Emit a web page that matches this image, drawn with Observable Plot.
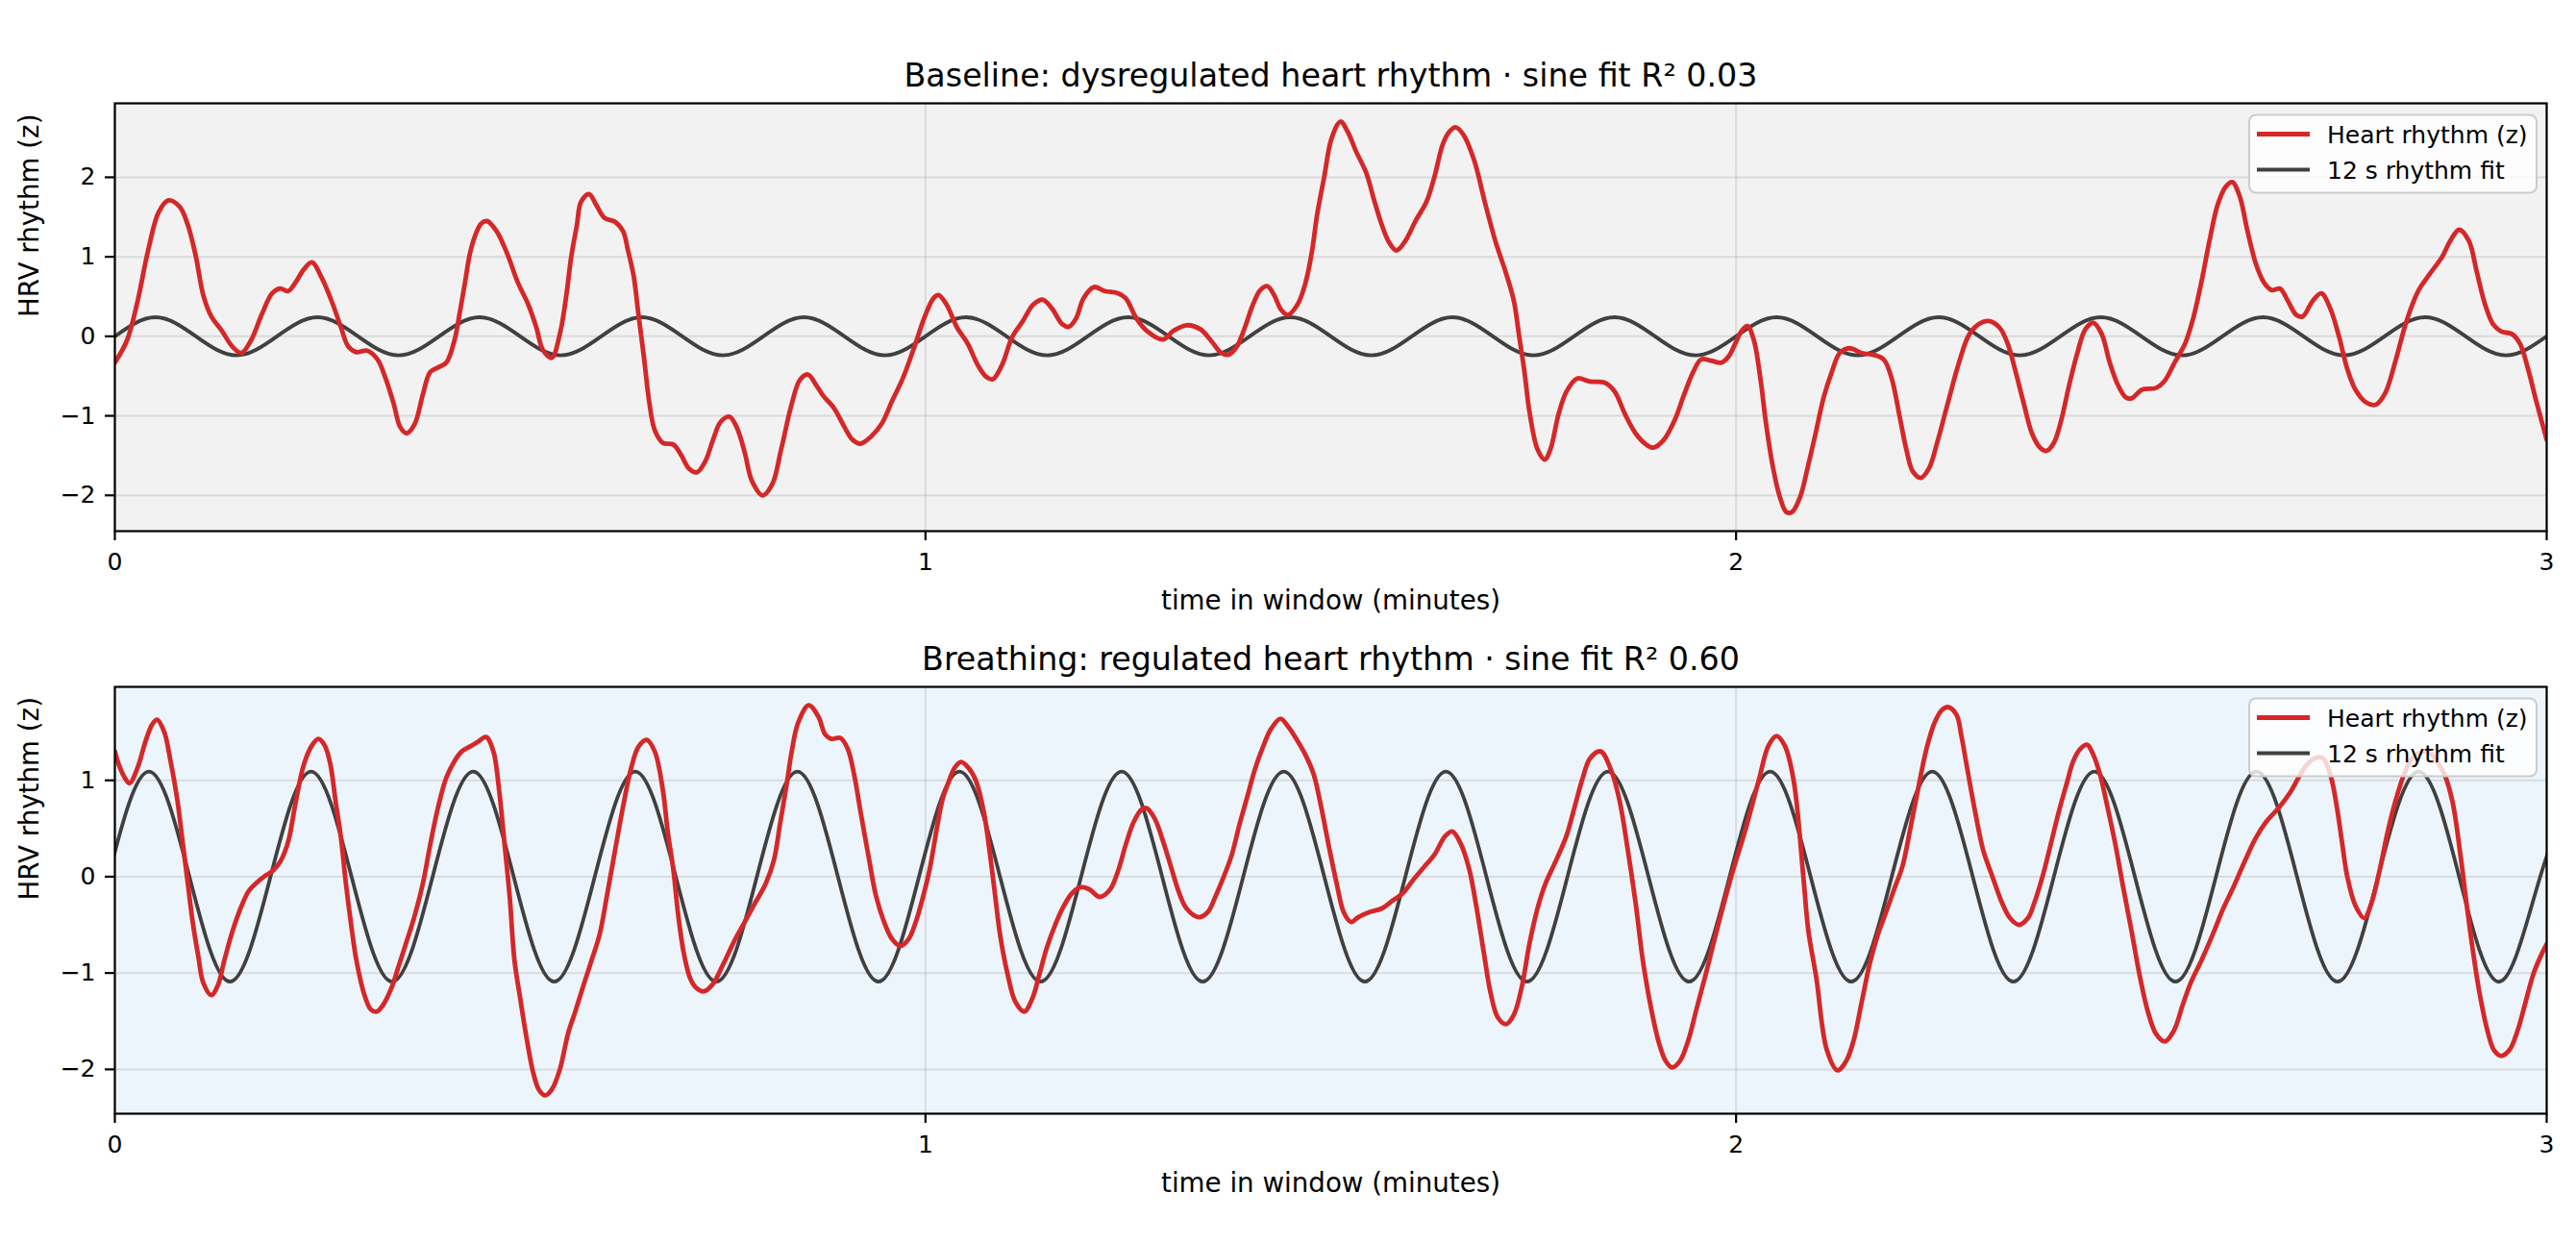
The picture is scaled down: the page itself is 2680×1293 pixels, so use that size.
<!DOCTYPE html>
<html>
<head>
<meta charset="utf-8">
<script src="https://cdn.jsdelivr.net/npm/d3@7"></script>
<script src="https://cdn.jsdelivr.net/npm/@observablehq/plot@0.6"></script>
<style>
  html, body { margin: 0; padding: 0; background: #ffffff; }
  #chart svg { display: block; }
</style>
</head>
<body>
<div id="chart"></div>
<script>
// ---------- DATA ----------
const xTicks = [0, 1, 2, 3];
const baselineYTicks = [-2, -1, 0, 1, 2];
const breathingYTicks = [-2, -1, 0, 1];
const xLabel = "time in window (minutes)";
const yLabel = "HRV rhythm (z)";
const seriesLabels = ["Heart rhythm (z)", "12 s rhythm fit"];
const baselineTitle = "Baseline: dysregulated heart rhythm · sine fit R² 0.03";
const breathingTitle = "Breathing: regulated heart rhythm · sine fit R² 0.60";

// [time (minutes), z value]
const baselineHeart = [
[0.000,-0.33],[0.015,-0.05],[0.028,0.44],[0.041,1.08],[0.054,1.56],[0.066,1.71],[0.080,1.63],[0.090,1.40],[0.100,1.00],[0.109,0.52],
[0.119,0.25],[0.132,0.07],[0.145,-0.13],[0.156,-0.21],[0.168,-0.05],[0.181,0.27],[0.194,0.54],[0.204,0.60],[0.214,0.57],[0.223,0.68],
[0.233,0.84],[0.243,0.93],[0.256,0.72],[0.269,0.40],[0.279,0.11],[0.288,-0.13],[0.298,-0.20],[0.311,-0.18],[0.324,-0.29],[0.334,-0.53],
[0.344,-0.85],[0.352,-1.14],[0.360,-1.22],[0.370,-1.10],[0.380,-0.73],[0.389,-0.45],[0.399,-0.39],[0.409,-0.33],[0.419,-0.05],[0.425,0.27],
[0.432,0.68],[0.438,1.04],[0.445,1.28],[0.452,1.42],[0.459,1.45],[0.471,1.32],[0.484,1.04],[0.497,0.68],[0.510,0.40],[0.520,0.11],
[0.528,-0.17],[0.539,-0.27],[0.549,0.03],[0.557,0.52],[0.563,1.00],[0.570,1.40],[0.575,1.69],[0.585,1.79],[0.594,1.65],[0.604,1.49],
[0.617,1.44],[0.627,1.32],[0.633,1.08],[0.640,0.76],[0.646,0.27],[0.653,-0.29],[0.659,-0.81],[0.666,-1.18],[0.676,-1.34],[0.689,-1.36],
[0.699,-1.50],[0.708,-1.66],[0.718,-1.71],[0.728,-1.58],[0.738,-1.30],[0.747,-1.08],[0.758,-1.01],[0.767,-1.14],[0.777,-1.46],[0.786,-1.82],
[0.799,-2.00],[0.811,-1.86],[0.822,-1.42],[0.835,-0.85],[0.845,-0.55],[0.855,-0.48],[0.865,-0.61],[0.874,-0.75],[0.887,-0.90],[0.900,-1.14],
[0.910,-1.30],[0.920,-1.35],[0.933,-1.26],[0.946,-1.10],[0.959,-0.81],[0.972,-0.53],[0.985,-0.17],
[1.000,0.27],[1.010,0.48],[1.016,0.52],[1.026,0.40],[1.039,0.11],[1.052,-0.09],[1.065,-0.37],[1.075,-0.51],[1.083,-0.54],[1.094,-0.37],
[1.107,-0.01],[1.120,0.19],[1.133,0.40],[1.145,0.46],[1.156,0.35],[1.169,0.15],[1.177,0.12],[1.186,0.23],[1.195,0.48],[1.208,0.62],
[1.221,0.57],[1.238,0.54],[1.247,0.48],[1.260,0.23],[1.273,0.07],[1.293,-0.04],[1.306,0.07],[1.322,0.14],[1.339,0.09],[1.352,-0.05],
[1.365,-0.21],[1.374,-0.23],[1.384,-0.13],[1.394,0.11],[1.404,0.40],[1.413,0.58],[1.422,0.63],[1.430,0.52],[1.439,0.33],[1.447,0.27],
[1.459,0.40],[1.469,0.68],[1.477,1.08],[1.483,1.52],[1.492,2.01],[1.501,2.49],[1.512,2.70],[1.521,2.57],[1.531,2.33],[1.544,2.05],
[1.553,1.73],[1.563,1.40],[1.572,1.18],[1.581,1.08],[1.592,1.20],[1.605,1.46],[1.618,1.69],[1.628,2.01],[1.638,2.41],[1.646,2.57],
[1.654,2.63],[1.664,2.53],[1.677,2.21],[1.690,1.69],[1.703,1.20],[1.716,0.80],[1.726,0.44],[1.732,0.03],[1.739,-0.45],[1.745,-0.94],
[1.755,-1.42],[1.764,-1.55],[1.771,-1.42],[1.781,-0.98],[1.791,-0.69],[1.804,-0.53],[1.820,-0.57],[1.837,-0.58],[1.850,-0.69],[1.863,-0.98],
[1.876,-1.22],[1.889,-1.36],[1.898,-1.40],[1.911,-1.30],[1.924,-1.06],[1.936,-0.73],[1.947,-0.45],[1.957,-0.29],[1.970,-0.31],[1.982,-0.33],
[1.991,-0.25],[1.999,-0.09],[2.007,0.07],[2.014,0.13],[2.022,-0.05],[2.030,-0.53],[2.037,-1.10],[2.045,-1.62],[2.054,-2.02],[2.062,-2.21],[2.069,-2.21],
[2.079,-2.02],[2.089,-1.62],[2.099,-1.18],[2.108,-0.77],[2.118,-0.45],[2.128,-0.21],[2.140,-0.15],[2.155,-0.21],[2.168,-0.23],[2.182,-0.29],
[2.192,-0.53],[2.202,-1.02],[2.210,-1.42],[2.218,-1.70],[2.228,-1.78],[2.238,-1.66],[2.248,-1.34],[2.262,-0.81],[2.275,-0.33],[2.288,0.03],
[2.302,0.17],[2.313,0.19],[2.325,0.11],[2.335,-0.09],[2.345,-0.45],[2.355,-0.85],[2.365,-1.22],[2.375,-1.40],[2.383,-1.44],[2.392,-1.34],
[2.401,-1.06],[2.411,-0.61],[2.421,-0.21],[2.431,0.09],[2.441,0.17],[2.451,0.03],[2.461,-0.33],[2.471,-0.61],[2.481,-0.77],[2.488,-0.78],
[2.501,-0.67],[2.518,-0.65],[2.528,-0.57],[2.541,-0.33],[2.554,-0.09],[2.564,0.23],[2.574,0.68],[2.584,1.20],[2.594,1.65],[2.604,1.88],
[2.612,1.94],[2.621,1.77],[2.631,1.32],[2.641,0.92],[2.651,0.68],[2.661,0.58],[2.671,0.60],[2.681,0.44],[2.691,0.27],[2.699,0.25],
[2.711,0.44],[2.722,0.54],[2.733,0.35],[2.744,-0.01],[2.754,-0.41],[2.764,-0.67],[2.777,-0.83],[2.789,-0.86],[2.801,-0.71],[2.814,-0.29],
[2.827,0.19],[2.841,0.56],[2.854,0.76],[2.871,1.00],[2.881,1.20],[2.892,1.34],[2.904,1.20],[2.914,0.80],[2.924,0.40],[2.934,0.15],
[2.944,0.06],[2.957,0.03],[2.967,-0.09],[2.977,-0.41],[2.987,-0.81],[3.000,-1.30]
];

const breathingHeart = [
[0.000,1.30],[0.005,1.16],[0.012,1.03],[0.018,0.97],[0.028,1.13],[0.038,1.41],[0.046,1.58],[0.052,1.63],[0.061,1.50],[0.068,1.23],
[0.077,0.80],[0.083,0.40],[0.090,-0.07],[0.096,-0.47],[0.103,-0.83],[0.109,-1.10],[0.119,-1.23],[0.127,-1.13],[0.135,-0.87],[0.145,-0.57],
[0.155,-0.33],[0.165,-0.15],[0.174,-0.07],[0.184,0.00],[0.196,0.07],[0.205,0.17],[0.214,0.37],[0.223,0.77],[0.233,1.16],[0.243,1.36],
[0.251,1.43],[0.259,1.36],[0.266,1.16],[0.272,0.80],[0.279,0.40],[0.285,-0.07],[0.292,-0.53],[0.298,-0.87],[0.308,-1.23],[0.316,-1.38],
[0.323,-1.40],[0.331,-1.33],[0.341,-1.16],[0.350,-0.93],[0.360,-0.67],[0.370,-0.40],[0.380,-0.07],[0.389,0.33],[0.399,0.73],[0.409,1.03],
[0.419,1.20],[0.428,1.30],[0.438,1.35],[0.448,1.40],[0.458,1.45],[0.467,1.30],[0.474,0.90],[0.480,0.40],[0.487,-0.20],[0.493,-0.87],
[0.500,-1.26],[0.507,-1.63],[0.516,-2.03],[0.523,-2.21],[0.531,-2.27],[0.539,-2.21],[0.549,-2.00],[0.559,-1.63],[0.568,-1.40],[0.578,-1.13],
[0.588,-0.87],[0.598,-0.60],[0.607,-0.20],[0.617,0.27],[0.627,0.73],[0.637,1.13],[0.646,1.35],[0.656,1.42],[0.666,1.30],[0.676,0.90],
[0.682,0.47],[0.689,0.07],[0.695,-0.40],[0.702,-0.80],[0.710,-1.06],[0.718,-1.16],[0.727,-1.19],[0.738,-1.11],[0.751,-0.90],[0.764,-0.67],
[0.777,-0.47],[0.790,-0.27],[0.803,-0.07],[0.813,0.17],[0.821,0.57],[0.829,0.97],[0.835,1.30],[0.843,1.60],[0.856,1.78],[0.868,1.66],
[0.876,1.48],[0.884,1.43],[0.895,1.44],[0.904,1.33],[0.912,1.06],[0.920,0.67],[0.930,0.20],[0.939,-0.20],[0.949,-0.47],[0.959,-0.65],
[0.969,-0.72],[0.979,-0.65],[0.988,-0.47],[0.995,-0.27],
[1.005,0.07],[1.014,0.50],[1.021,0.80],[1.028,0.97],[1.036,1.13],[1.044,1.19],[1.053,1.13],[1.062,1.00],[1.072,0.67],[1.079,0.27],
[1.086,-0.20],[1.092,-0.60],[1.101,-1.00],[1.111,-1.30],[1.122,-1.40],[1.132,-1.26],[1.140,-1.03],[1.150,-0.73],[1.160,-0.50],[1.169,-0.33],
[1.181,-0.17],[1.192,-0.11],[1.202,-0.13],[1.215,-0.21],[1.228,-0.13],[1.238,0.07],[1.247,0.33],[1.257,0.57],[1.267,0.70],[1.273,0.71],
[1.283,0.60],[1.293,0.37],[1.303,0.10],[1.313,-0.17],[1.322,-0.33],[1.337,-0.42],[1.348,-0.37],[1.358,-0.20],[1.368,0.00],[1.378,0.23],
[1.387,0.53],[1.397,0.83],[1.407,1.13],[1.417,1.36],[1.426,1.53],[1.438,1.64],[1.448,1.55],[1.459,1.41],[1.469,1.26],[1.479,1.06],
[1.488,0.73],[1.498,0.30],[1.508,-0.10],[1.516,-0.37],[1.525,-0.47],[1.534,-0.42],[1.547,-0.37],[1.563,-0.33],[1.576,-0.25],[1.589,-0.17],
[1.602,-0.03],[1.615,0.10],[1.628,0.23],[1.641,0.42],[1.650,0.47],[1.661,0.33],[1.671,0.07],[1.680,-0.33],[1.689,-0.80],[1.697,-1.20],
[1.706,-1.46],[1.716,-1.53],[1.726,-1.43],[1.736,-1.13],[1.745,-0.70],[1.755,-0.33],[1.765,-0.07],[1.778,0.17],[1.791,0.43],[1.801,0.73],
[1.811,1.03],[1.820,1.23],[1.833,1.30],[1.846,1.10],[1.856,0.80],[1.866,0.30],[1.876,-0.27],[1.885,-0.87],[1.895,-1.36],[1.905,-1.73],
[1.913,-1.91],[1.921,-1.98],[1.931,-1.91],[1.941,-1.70],
[1.951,-1.38],[1.963,-1.00],[1.978,-0.50],[1.994,0.00],[2.012,0.50],[2.028,1.00],[2.040,1.36],[2.050,1.46],[2.060,1.36],[2.071,1.00],
[2.083,0.00],[2.089,-0.55],[2.099,-1.05],[2.112,-1.80],[2.125,-2.01],
[2.136,-1.91],[2.145,-1.70],[2.155,-1.30],[2.165,-0.90],[2.175,-0.60],[2.185,-0.37],[2.195,-0.13],[2.205,0.10],[2.215,0.50],[2.225,0.93],
[2.235,1.33],[2.245,1.60],[2.254,1.73],[2.262,1.76],[2.272,1.68],[2.278,1.46],[2.285,1.13],[2.295,0.67],[2.305,0.27],[2.315,0.03],
[2.328,-0.27],[2.338,-0.43],[2.349,-0.50],[2.360,-0.43],[2.368,-0.27],[2.378,0.00],[2.388,0.33],[2.398,0.67],[2.408,0.97],[2.416,1.20],
[2.425,1.33],[2.433,1.37],[2.441,1.26],[2.449,1.06],[2.458,0.73],[2.468,0.33],[2.478,-0.13],[2.488,-0.57],[2.498,-1.03],[2.508,-1.40],
[2.518,-1.63],[2.529,-1.71],[2.540,-1.60],[2.551,-1.33],[2.561,-1.10],[2.574,-0.87],[2.588,-0.60],[2.601,-0.33],[2.614,-0.10],[2.628,0.17],
[2.641,0.40],[2.654,0.57],[2.671,0.73],[2.684,0.88],[2.694,1.03],[2.704,1.16],[2.714,1.23],[2.724,1.23],[2.734,1.03],[2.741,0.73],
[2.748,0.33],[2.754,0.00],[2.764,-0.30],[2.775,-0.43],[2.784,-0.27],[2.794,0.07],[2.804,0.47],[2.814,0.80],[2.824,1.06],[2.834,1.23],
[2.844,1.29],[2.854,1.30],[2.864,1.20],[2.874,1.06],[2.884,0.77],[2.894,0.20],[2.901,-0.27],[2.909,-0.77],[2.917,-1.20],[2.927,-1.60],
[2.935,-1.80],[2.944,-1.86],[2.954,-1.80],[2.964,-1.60],[2.974,-1.30],[2.984,-1.00],[2.994,-0.80],[3.000,-0.70]
];

// 12 s sine fit, sampled at its zero crossings and extremes (quarter periods)
const fitBaselineTime = [
0.00,0.05,0.10,0.15,0.20,0.25,0.30,0.35,0.40,0.45,
0.50,0.55,0.60,0.65,0.70,0.75,0.80,0.85,0.90,0.95,
1.00,1.05,1.10,1.15,1.20,1.25,1.30,1.35,1.40,1.45,
1.50,1.55,1.60,1.65,1.70,1.75,1.80,1.85,1.90,1.95,
2.00,2.05,2.10,2.15,2.20,2.25,2.30,2.35,2.40,2.45,
2.50,2.55,2.60,2.65,2.70,2.75,2.80,2.85,2.90,2.95,
3.00];
const fitBaselineValue = [
0,0.24,0,-0.24,0,0.24,0,-0.24,0,0.24,
0,-0.24,0,0.24,0,-0.24,0,0.24,0,-0.24,
0,0.24,0,-0.24,0,0.24,0,-0.24,0,0.24,
0,-0.24,0,0.24,0,-0.24,0,0.24,0,-0.24,
0,0.24,0,-0.24,0,0.24,0,-0.24,0,0.24,
0,-0.24,0,0.24,0,-0.24,0,0.24,0,-0.24,
0];
const fitBreathingTime = [
-0.008,0.042,0.092,0.142,0.192,0.242,0.292,0.342,0.392,0.442,
0.492,0.542,0.592,0.642,0.692,0.742,0.792,0.842,0.892,0.942,
0.992,1.042,1.092,1.142,1.192,1.242,1.292,1.342,1.392,1.442,
1.492,1.542,1.592,1.642,1.692,1.742,1.792,1.842,1.892,1.942,
1.992,2.042,2.092,2.142,2.192,2.242,2.292,2.342,2.392,2.442,
2.492,2.542,2.592,2.642,2.692,2.742,2.792,2.842,2.892,2.942,
2.992,3.042];
const fitBreathingValue = [
0,1.09,0,-1.09,0,1.09,0,-1.09,0,1.09,
0,-1.09,0,1.09,0,-1.09,0,1.09,0,-1.09,
0,1.09,0,-1.09,0,1.09,0,-1.09,0,1.09,
0,-1.09,0,1.09,0,-1.09,0,1.09,0,-1.09,
0,1.09,0,-1.09,0,1.09,0,-1.09,0,1.09,
0,-1.09,0,1.09,0,-1.09,0,1.09,0,-1.09,
0,1.09];

// ---------- RENDERING ----------
const W = 2680, ML = 119, MR = 31;
const FONT = "'DejaVu Sans', 'Liberation Sans', sans-serif";
const RED = "#d62728", DARK = "#404040";
const RED_W = 4.8, DARK_W = 3.8;
const fmt = d3.format("d");

function panel({title, heart, fitT, fitV, bg, yDomain, yTicks, height, mt, mb}) {
  const fit = fitT.map((t, i) => ({t, v: fitV[i]}));
  const svg = Plot.plot({
    width: W, height,
    marginLeft: ML, marginRight: MR, marginTop: mt, marginBottom: mb,
    style: {fontFamily: FONT, fontSize: "25px", background: "white", color: "black", overflow: "visible"},
    x: {domain: [0, 3]},
    y: {domain: yDomain},
    marks: [
      Plot.frame({fill: bg, stroke: "none"}),
      Plot.gridX({ticks: xTicks, stroke: "#b0b0b0", strokeOpacity: 0.35, strokeWidth: 2}),
      Plot.gridY({ticks: yTicks, stroke: "#b0b0b0", strokeOpacity: 0.35, strokeWidth: 2}),
      Plot.line(fit, {x: "t", y: "v", curve: "natural", stroke: DARK, strokeWidth: DARK_W, clip: true}),
      Plot.line(heart, {x: d => d[0], y: d => d[1], curve: "catmull-rom", stroke: RED, strokeWidth: RED_W, clip: true}),
      Plot.frame({stroke: "black", strokeWidth: 2.2}),
      Plot.axisX({ticks: xTicks, tickFormat: fmt, tickSize: 10, tickPadding: 13, strokeWidth: 2.2, label: null, fontSize: 25}),
      Plot.axisY({ticks: yTicks, tickFormat: fmt, tickSize: 10, tickPadding: 10, strokeWidth: 2.2, label: null, fontSize: 25}),
      Plot.text([title], {text: d => d, frameAnchor: "top", dy: -18, lineAnchor: "bottom", fontSize: 33.3, fill: "black"}),
      Plot.text([xLabel], {text: d => d, frameAnchor: "bottom", dy: 81, lineAnchor: "bottom", fontSize: 27.7, fill: "black"}),
      Plot.text([yLabel], {text: d => d, frameAnchor: "left", dx: -88.5, rotate: -90, fontSize: 27.7, fill: "black"})
    ]
  });

  // legend (upper right)
  const right = W - MR - 10, bw = 299, bh = 81;
  const bx = right - bw, by = mt + 12.5;
  const g = d3.select(svg).append("g")
    .attr("font-family", FONT).attr("font-size", 25).attr("text-anchor", "start");
  g.append("rect").attr("x", bx).attr("y", by).attr("width", bw).attr("height", bh)
    .attr("rx", 7).attr("fill", "white").attr("fill-opacity", 0.8)
    .attr("stroke", "#cccccc").attr("stroke-width", 2);
  const entries = [{label: seriesLabels[0], color: RED, w: RED_W, dy: 20},
                   {label: seriesLabels[1], color: DARK, w: DARK_W, dy: 57}];
  for (const e of entries) {
    g.append("line").attr("x1", bx + 8).attr("x2", bx + 63)
      .attr("y1", by + e.dy).attr("y2", by + e.dy)
      .attr("stroke", e.color).attr("stroke-width", e.w);
    g.append("text").attr("x", bx + 81).attr("y", by + e.dy + 9)
      .attr("text-anchor", "start").attr("fill", "black").text(e.label);
  }
  return svg;
}

const chart = document.getElementById("chart");
chart.appendChild(panel({
  title: baselineTitle, heart: baselineHeart,
  fitT: fitBaselineTime, fitV: fitBaselineValue,
  bg: "#f2f2f2", yDomain: [-2.45, 2.93], yTicks: baselineYTicks,
  height: 640, mt: 107, mb: 88
}));
chart.appendChild(panel({
  title: breathingTitle, heart: breathingHeart,
  fitT: fitBreathingTime, fitV: fitBreathingValue,
  bg: "#edf5fc", yDomain: [-2.46, 1.97], yTicks: breathingYTicks,
  height: 653, mt: 74, mb: 135
}));
</script>
</body>
</html>
